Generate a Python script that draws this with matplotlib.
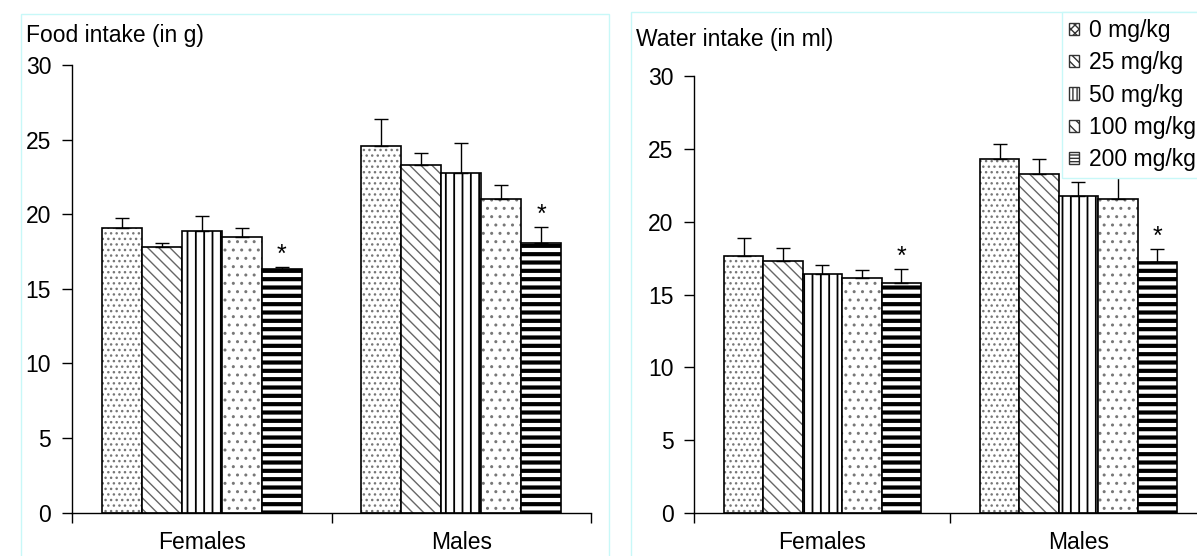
import matplotlib
matplotlib.use("Agg")
import matplotlib.pyplot as plt
from matplotlib.patches import Patch, Rectangle
import numpy as np

plt.rcParams["font.family"] = ["Liberation Sans", "DejaVu Sans"]

groups = ["Females", "Males"]
doses = ["0 mg/kg", "25 mg/kg", "50 mg/kg", "100 mg/kg", "200 mg/kg"]

# food intake (g), rows = dose, cols = Females/Males
food_mean = [[19.1, 24.55], [17.8, 23.3], [18.9, 22.75], [18.5, 21.0], [16.3, 18.05]]
food_err = [[0.65, 1.85], [0.3, 0.8], [0.95, 2.0], [0.55, 0.95], [0.17, 1.12]]

# water intake (ml)
water_mean = [[17.65, 24.3], [17.3, 23.3], [16.4, 21.75], [16.1, 21.55], [15.8, 17.2]]
water_err = [[1.25, 1.05], [0.87, 1.0], [0.6, 1.0], [0.55, 1.65], [0.95, 0.95]]

# significant vs control
signif = [[False, False], [False, False], [False, False], [False, False], [True, True]]

hatches = ["...", "\\\\\\", "||", "..", "--"]
hatch_cols = ["#777777", "#666666", "black", "#777777", "black"]
hatch_lws = [1.0, 1.0, 1.3, 1.0, 3.0]

FS = 16.5
W, H = 1197, 556
fig = plt.figure(figsize=(W / 100, H / 100), dpi=100)

frame_col = "#c8f8f8"
fig.add_artist(Rectangle((21 / W, -0.1), (609 - 21) / W, 1.1 - 14 / H,
                         transform=fig.transFigure, fill=False,
                         edgecolor=frame_col, lw=1))
fig.add_artist(Rectangle((631 / W, -0.1), 0.5, 1.1 - 12 / H,
                         transform=fig.transFigure, fill=False,
                         edgecolor=frame_col, lw=1))

ax1 = fig.add_axes([72 / W, 1 - 512.5 / H, (591 - 72) / W, (512.5 - 65) / H])
ax2 = fig.add_axes([694.4 / W, 1 - 513 / H, (W - 694.4) / W, (513 - 76) / H])

bw = 0.154
x = np.arange(len(groups))


def panel(ax, means, errs, xmax, xt):
    for i in range(len(doses)):
        pos = x + (i - 2) * bw
        with plt.rc_context({"hatch.linewidth": hatch_lws[i]}):
            bars = ax.bar(pos, means[i], bw, color="white",
                          edgecolor=hatch_cols[i], hatch=hatches[i], lw=0)
            for b in bars:
                if hasattr(b, "set_hatch_linewidth"):
                    b.set_hatch_linewidth(hatch_lws[i])
        ax.bar(pos, means[i], bw, fill=False, edgecolor="black", lw=1.2)
        ax.errorbar(pos, means[i], yerr=[np.zeros(len(groups)), errs[i]],
                    fmt="none", ecolor="black", elinewidth=1, capsize=5,
                    capthick=1)
        for j in range(len(groups)):
            if signif[i][j]:
                ax.annotate("*", (pos[j], means[i][j] + errs[i][j]),
                            xytext=(0, 0), textcoords="offset points",
                            ha="center", va="bottom", fontsize=18)
    ax.set_ylim(0, 30)
    ax.set_xlim(-0.5, xmax)
    ax.set_yticks([0, 5, 10, 15, 20, 25, 30])
    ax.set_xticks(xt)
    ax.set_xticklabels([])
    ax.set_xticks(x, minor=True)
    ax.set_xticklabels(groups, minor=True)
    ax.tick_params(axis="x", which="major", length=7, width=1, direction="out")
    ax.tick_params(axis="x", which="minor", length=0, pad=13, labelsize=FS)
    ax.tick_params(axis="y", length=7, width=1, pad=8, labelsize=FS)
    for s in ["top", "right"]:
        ax.spines[s].set_visible(False)
    for s in ["left", "bottom"]:
        ax.spines[s].set_linewidth(1)


panel(ax1, food_mean, food_err, 1.5, [-0.5, 0.5, 1.5])
panel(ax2, water_mean, water_err, -0.5 + (W - 694.4) / 256, [-0.5, 0.5])

fig.text(26 / W, 1 - 41.7 / H, "Food intake (in g)", fontsize=FS, va="baseline")
fig.text(636 / W, 1 - 46 / H, "Water intake (in ml)", fontsize=FS, va="baseline")

handles = [Patch(facecolor="white", edgecolor="#333333", hatch=h, lw=1)
           for h in ["xxxx", "\\\\\\\\", "||||", "\\\\\\", "-----"]]
fig.legend(handles, doses, loc="upper left",
           bbox_to_anchor=(1062 / W, 1 - 12 / H), bbox_transform=fig.transFigure,
           borderaxespad=0, frameon=True, fancybox=False, edgecolor=frame_col,
           framealpha=1, fontsize=FS, handlelength=0.44, handleheight=0.44,
           handletextpad=0.42, labelspacing=0.4, borderpad=0.32)

fig.savefig("out.png", dpi=100)
